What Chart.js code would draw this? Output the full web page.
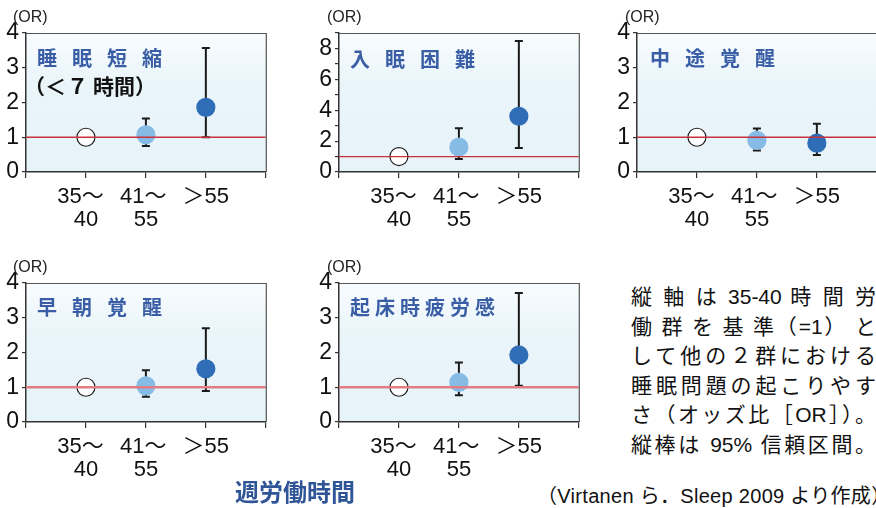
<!DOCTYPE html>
<html><head><meta charset="utf-8">
<script src="https://cdn.jsdelivr.net/npm/chart.js@4"></script>
<style>
body{margin:0;width:876px;height:508px;overflow:hidden;background:#fff;position:relative;font-family:"Liberation Sans","Noto Sans CJK JP",sans-serif;}
canvas{position:absolute;}
.or{position:absolute;font-family:"Liberation Sans","Noto Sans CJK JP",sans-serif;font-size:16px;color:#222;line-height:18px;}
.ttl{position:absolute;font-family:"Noto Sans CJK JP",sans-serif;font-weight:bold;color:#3a5ea6;font-size:20px;line-height:24px;white-space:nowrap;}
.sub{position:absolute;font-family:"Noto Sans CJK JP",sans-serif;font-weight:bold;color:#111;font-size:21px;line-height:24px;white-space:nowrap;}
.note{position:absolute;left:631px;top:282px;width:245px;font-family:"Liberation Sans","Noto Sans CJK JP",sans-serif;font-size:21px;color:#111;}
.note div{height:29.5px;line-height:29.5px;text-align:justify;text-align-last:justify;white-space:nowrap;}
.xt{position:absolute;left:235px;top:477px;font-family:"Noto Sans CJK JP",sans-serif;font-weight:bold;color:#2f5597;font-size:24px;line-height:28px;}
.cite{position:absolute;left:537px;top:484px;font-family:"Liberation Sans","Noto Sans CJK JP",sans-serif;font-size:20px;letter-spacing:0.3px;line-height:24px;color:#111;white-space:nowrap;}
</style>
</head><body>
<canvas id="c1" width="276" height="220" style="left:0;top:13px"></canvas>
<canvas id="c2" width="276" height="220" style="left:313px;top:13px"></canvas>
<canvas id="c3" width="276" height="220" style="left:611px;top:13px"></canvas>
<canvas id="c4" width="276" height="220" style="left:0;top:263px"></canvas>
<canvas id="c5" width="276" height="220" style="left:313px;top:263px"></canvas>

<div class="or" style="left:13px;top:8px">(OR)</div>
<div class="or" style="left:327px;top:8px">(OR)</div>
<div class="or" style="left:625px;top:8px">(OR)</div>
<div class="or" style="left:13px;top:258px">(OR)</div>
<div class="or" style="left:327px;top:258px">(OR)</div>

<div class="ttl" style="left:37px;top:46px;letter-spacing:15px">睡眠短縮</div>
<div class="sub" style="left:24px;top:73px"><span>（＜</span><span style="margin-left:1px">７</span><span style="margin-left:5px">時間）</span></div>
<div class="ttl" style="left:350px;top:47px;letter-spacing:15px">入眠困難</div>
<div class="ttl" style="left:650px;top:46px;letter-spacing:15px">中途覚醒</div>
<div class="ttl" style="left:37px;top:295px;letter-spacing:15px">早朝覚醒</div>
<div class="ttl" style="left:350px;top:295px;letter-spacing:5px">起床時疲労感</div>

<div class="note">
<div>縦 軸 は 35-40 時 間 労</div>
<div>働 群 を 基 準（=1） と</div>
<div>して他の２群における</div>
<div>睡眠問題の起こりやす</div>
<div>さ（オッズ比［OR］）。</div>
<div>縦棒は 95% 信頼区間。</div>
</div>
<div class="xt">週労働時間</div>
<div class="cite">（Virtanen ら．Sleep 2009 より作成）</div>

<script>
// ---- data ----
const groupLabels = [['35～\u2002', '40'], ['41～\u2005', '55'], ['＞55']];
const groupX = [1, 2, 3];

const shortOR = [1.00, 1.07, 1.86];
const shortLo = [1.00, 0.75, 1.00];
const shortHi = [1.00, 1.54, 3.57];

const onsetOR = [1.00, 1.62, 3.61];
const onsetLo = [1.00, 0.84, 1.56];
const onsetHi = [1.00, 2.83, 8.48];

const wakeOR = [1.00, 0.91, 0.83];
const wakeLo = [1.00, 0.62, 0.49];
const wakeHi = [1.00, 1.25, 1.39];

const earlyOR = [1.00, 1.04, 1.53];
const earlyLo = [1.00, 0.73, 0.89];
const earlyHi = [1.00, 1.49, 2.70];

const fatigueOR = [1.00, 1.14, 1.93];
const fatigueLo = [1.00, 0.77, 1.04];
const fatigueHi = [1.00, 1.71, 3.71];

const referenceOR = 1;

// ---- styles ----
const pointFill = ['#ffffff', '#86bbe6', '#2f6db7'];
const pointEdge = ['#222222', '#86bbe6', '#2f6db7'];
const FONT = '"Liberation Sans", "Noto Sans CJK JP", sans-serif';

const bgPlugin = {
  id: 'bg',
  beforeDraw(chart) {
    const a = chart.chartArea, ctx = chart.ctx;
    const g = ctx.createLinearGradient(0, a.top, 0, a.bottom);
    g.addColorStop(0, '#f9fcfe');
    g.addColorStop(0.35, '#eaf5fa');
    g.addColorStop(1, '#e6f3f9');
    ctx.save();
    ctx.fillStyle = g;
    ctx.fillRect(a.left, a.top, a.right - a.left, a.bottom - a.top);
    ctx.restore();
  },
  afterDraw(chart) {
    const a = chart.chartArea, ctx = chart.ctx;
    ctx.save();
    ctx.strokeStyle = '#555';
    ctx.lineWidth = 1.2;
    ctx.beginPath();
    ctx.moveTo(a.left, a.top + 0.5);
    ctx.lineTo(a.right + 0.5, a.top + 0.5);
    ctx.lineTo(a.right + 0.5, a.bottom);
    ctx.stroke();
    ctx.restore();
  }
};

const errPlugin = {
  id: 'err',
  beforeDatasetDraw(chart, args) {
    if (args.index !== 1) return;
    const ds = chart.data.datasets[1];
    const xs = chart.scales.x, ys = chart.scales.y, ctx = chart.ctx;
    ctx.save();
    ctx.strokeStyle = '#1a1a1a';
    ctx.lineWidth = 2;
    ds.data.forEach((p, i) => {
      const lo = ds.lo[i], hi = ds.hi[i];
      if (lo === hi) return;
      const x = xs.getPixelForValue(p.x);
      const y1 = ys.getPixelForValue(lo), y2 = ys.getPixelForValue(hi);
      ctx.beginPath();
      ctx.moveTo(x, y1); ctx.lineTo(x, y2);
      ctx.moveTo(x - 4, y1); ctx.lineTo(x + 4, y1);
      ctx.moveTo(x - 4, y2); ctx.lineTo(x + 4, y2);
      ctx.stroke();
    });
    ctx.restore();
  }
};

function makePanel(id, or, lo, hi, yMax, labelStep, lineColor, lineWidth) {
  new Chart(document.getElementById(id), {
    data: {
      datasets: [
        {
          type: 'line',
          data: [{x: 0, y: referenceOR}, {x: 4, y: referenceOR}],
          borderColor: lineColor,
          borderWidth: lineWidth,
          pointRadius: 0
        },
        {
          type: 'scatter',
          data: groupX.map((x, i) => ({x: x, y: or[i]})),
          lo: lo, hi: hi,
          pointRadius: 9,
          pointHoverRadius: 9,
          backgroundColor: pointFill,
          borderColor: pointEdge,
          borderWidth: 1.2
        }
      ]
    },
    options: {
      responsive: false,
      animation: false,
      events: [],
      layout: {padding: {top: 20, right: 10, left: 0, bottom: 0}},
      plugins: {legend: {display: false}, tooltip: {enabled: false}},
      scales: {
        x: {
          type: 'linear', min: 0, max: 4,
          afterFit: s => { s.height = 61; },
          ticks: {
            stepSize: 1, autoSkip: false, maxRotation: 0, padding: 8,
            color: '#111',
            font: {family: FONT, size: 22, lineHeight: 1.02},
            callback: v => groupLabels[v - 1] || ''
          },
          grid: {drawOnChartArea: false, drawTicks: true, tickLength: 6, color: '#333', lineWidth: 1.2},
          border: {display: true, color: '#333', width: 1.5}
        },
        y: {
          min: 0, max: yMax,
          afterFit: s => { s.width = 26; },
          ticks: {
            stepSize: 1, autoSkip: false, padding: 3,
            color: '#111',
            font: {family: FONT, size: 23},
            callback: v => (v % labelStep === 0 ? String(v) : '')
          },
          grid: {drawOnChartArea: false, drawTicks: true, tickLength: 4, color: '#333', lineWidth: 1.2},
          border: {display: true, color: '#333', width: 1.5}
        }
      }
    },
    plugins: [bgPlugin, errPlugin]
  });
}

makePanel('c1', shortOR, shortLo, shortHi, 4, 1, '#c8323c', 1.3);
makePanel('c2', onsetOR, onsetLo, onsetHi, 9, 2, '#c8323c', 1.3);
makePanel('c3', wakeOR, wakeLo, wakeHi, 4, 1, '#c8323c', 1.3);
makePanel('c4', earlyOR, earlyLo, earlyHi, 4, 1, '#e27d83', 2.4);
makePanel('c5', fatigueOR, fatigueLo, fatigueHi, 4, 1, '#e27d83', 2.4);
</script>
</body></html>
